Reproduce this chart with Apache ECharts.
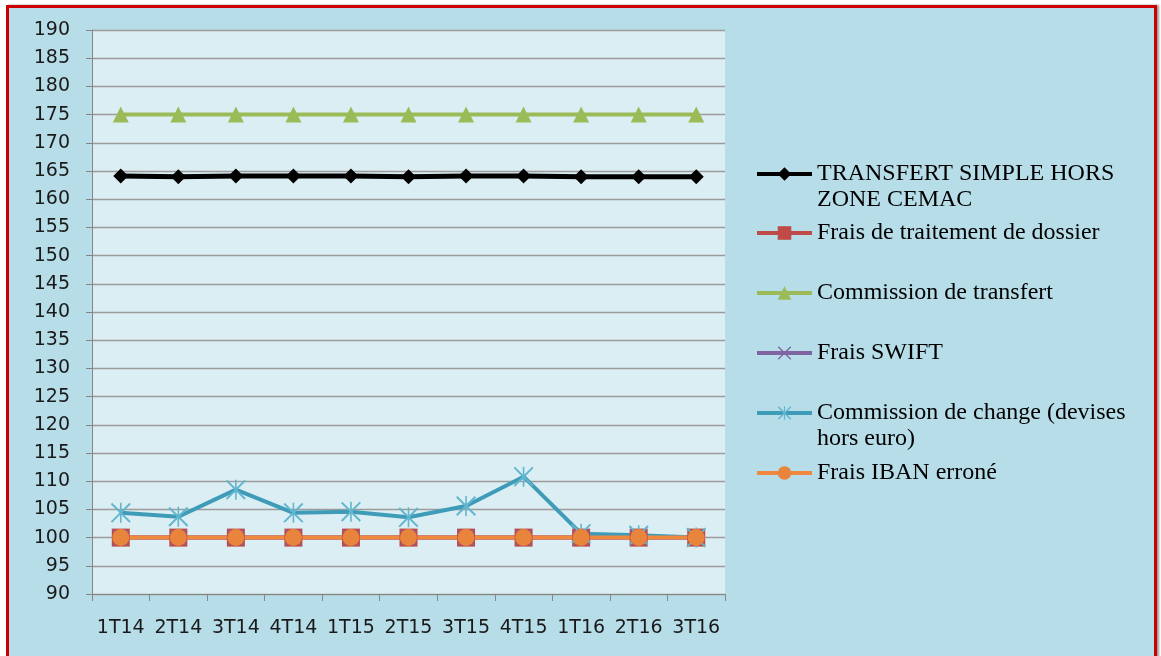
<!DOCTYPE html>
<html>
<head>
<meta charset="utf-8">
<script src="https://cdn.jsdelivr.net/npm/echarts@6/dist/echarts.min.js"></script>
<style>
  html, body { margin: 0; padding: 0; background: #fff; }
  #frame {
    position: absolute; left: 6px; top: 5px; width: 1145px; height: 660px;
    background: #b7dde8; border: 3px solid #cc0000; border-bottom: none;
    box-shadow: 2px 0 2px #999;
  }
  #chart { position: absolute; left: 0; top: 0; width: 1161px; height: 656px; }
</style>
</head>
<body>
<div id="frame"></div>
<div id="chart"></div>
<script>
// catégories (trimestres)
const quarters = ['1T14', '2T14', '3T14', '4T14', '1T15', '2T15', '3T15', '4T15', '1T16', '2T16', '3T16'];

// séries
const transfertSimple = [164.1, 164.0, 164.1, 164.1, 164.1, 164.0, 164.1, 164.1, 164.0, 164.0, 164.0];
const fraisDossier = [100, 100, 100, 100, 100, 100, 100, 100, 100, 100, 100];
const commissionTransfert = [175, 175, 175, 175, 175, 175, 175, 175, 175, 175, 175];
const fraisSwift = [100, 100, 100, 100, 100, 100, 100, 100, 100, 100, 100];
const commissionChange = [104.4, 103.7, 108.5, 104.4, 104.6, 103.6, 105.6, 110.8, 100.7, 100.4, 100];
const fraisIban = [100, 100, 100, 100, 100, 100, 100, 100, 100, 100, 100];

const seriesNames = [
    'TRANSFERT SIMPLE HORS ZONE CEMAC',
    'Frais de traitement de dossier',
    'Commission de transfert',
    'Frais SWIFT',
    'Commission de change (devises hors euro)',
    'Frais IBAN erroné'
];
// libellés de légende (retour à la ligne comme dans l'original)
const legendLabels = [
    'TRANSFERT SIMPLE HORS\nZONE CEMAC',
    'Frais de traitement de dossier',
    'Commission de transfert',
    'Frais SWIFT',
    'Commission de change (devises\nhors euro)',
    'Frais IBAN erroné'
];

const crossPath = 'path://M-10,-8.6 L-8.6,-10 L10,8.6 L8.6,10 Z M8.6,-10 L10,-8.6 L-8.6,10 L-10,8.6 Z';
const starPath = crossPath + ' M-0.8,-10 L0.8,-10 L0.8,10 L-0.8,10 Z';

const chart = echarts.init(document.getElementById('chart'));

const lineH = 26;
const iconY = [174, 233, 293, 353, 413, 473];
const legends = seriesNames.map((name, i) => {
    const twoLines = legendLabels[i].indexOf('\n') >= 0;
    return {
        left: 755,
        top: twoLines ? iconY[i] - 1.5 * lineH : iconY[i] - lineH / 2,
        padding: 0,
        itemWidth: 55,
        itemHeight: 17,
        itemGap: 0,
        selectedMode: false,
        data: [name],
        // ligne vide en tête pour aligner le symbole sur la première ligne
        formatter: () => (twoLines ? ' \n' : '') + legendLabels[i],
        lineStyle: { width: 4 },
        textStyle: {
            fontFamily: 'Liberation Serif',
            fontSize: 24,
            color: '#000',
            lineHeight: lineH
        }
    };
});

function lineSeries(name, data, color, symbol, symbolSize, width, markerColor) {
    return {
        name: name,
        type: 'line',
        data: data,
        symbol: symbol,
        symbolSize: symbolSize,
        showAllSymbol: true,
        lineStyle: { color: color, width: width },
        itemStyle: { color: markerColor || color },
        emphasis: { disabled: true }
    };
}

chart.setOption({
    backgroundColor: 'transparent',
    animation: false,
    legend: legends,
    grid: {
        left: 92, top: 30, right: 436, bottom: 62,
        show: true, backgroundColor: '#dbeef3', borderWidth: 0
    },
    xAxis: {
        type: 'category',
        data: quarters,
        boundaryGap: true,
        axisLine: { lineStyle: { color: '#868686', width: 1 } },
        axisTick: { show: true, interval: 0, length: 7, lineStyle: { color: '#868686' } },
        axisLabel: { interval: 0, margin: 25, fontFamily: 'DejaVu Sans', fontSize: 19, color: '#1a1a1a' }
    },
    yAxis: {
        type: 'value',
        min: 90, max: 190, interval: 5,
        axisLine: { show: true, lineStyle: { color: '#868686', width: 1 } },
        axisTick: { show: true, length: 6, lineStyle: { color: '#868686' } },
        axisLabel: { margin: 22, fontFamily: 'DejaVu Sans', fontSize: 19, color: '#1a1a1a' },
        splitLine: { lineStyle: { color: '#9c9c9c', width: 1.3 } }
    },
    series: [
        lineSeries(seriesNames[0], transfertSimple, '#000000', 'diamond', 15, 5),
        lineSeries(seriesNames[1], fraisDossier, '#be4b48', 'rect', 18, 4),
        lineSeries(seriesNames[2], commissionTransfert, '#9bbb59', 'triangle', 16, 4),
        lineSeries(seriesNames[3], fraisSwift, '#8064a2', crossPath, 16, 4),
        lineSeries(seriesNames[4], commissionChange, '#3f9cb8', starPath, 20, 4, '#62b6cf'),
        lineSeries(seriesNames[5], fraisIban, '#f0883e', 'circle', 17, 4, '#e8843c')
    ]
});

window.addEventListener('resize', function () {
    chart.resize();
});
</script>
</body>
</html>
